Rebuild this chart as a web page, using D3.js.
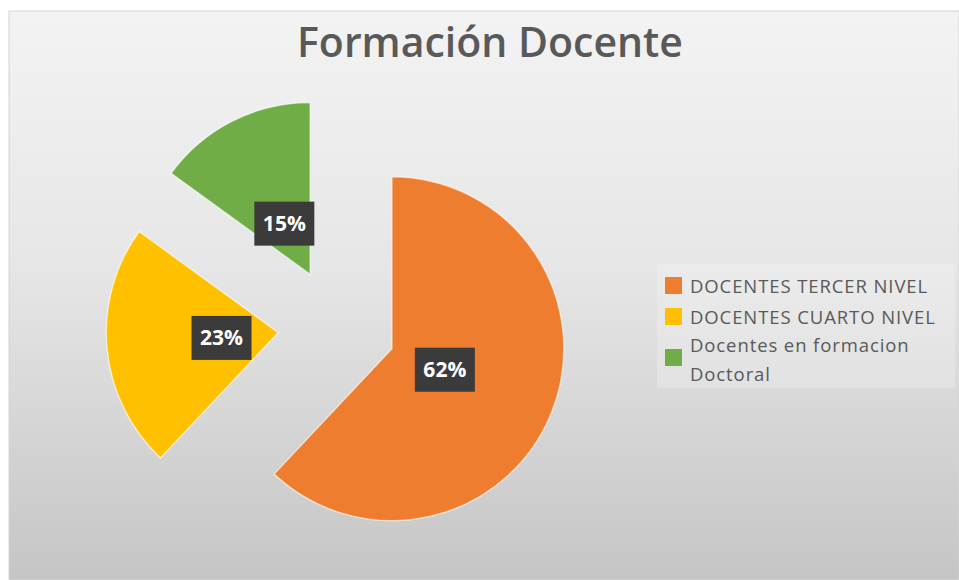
<!DOCTYPE html>
<html>
<head>
<meta charset="utf-8">
<script src="https://cdn.jsdelivr.net/npm/d3@7/dist/d3.min.js"></script>
<style>
  body { margin: 0; background: #ffffff; }
  svg { display: block; }
</style>
</head>
<body>
<svg></svg>
<script>
var svgWidth = 959, svgHeight = 580;

// chart data
var categories = ["DOCENTES TERCER NIVEL", "DOCENTES CUARTO NIVEL", "Docentes en formacion Doctoral"];
var legendLines = [["DOCENTES TERCER NIVEL"], ["DOCENTES CUARTO NIVEL"], ["Docentes en formacion", "Doctoral"]];
var values = [62, 23, 15];
var colors = ["#EE7D2F", "#FFC000", "#70AD47"];

var svg = d3.select("svg")
            .attr("width", svgWidth)
            .attr("height", svgHeight);

// background panel with excel style gradient
var defs = svg.append("defs");
var grad = defs.append("linearGradient")
               .attr("id", "bg")
               .attr("x1", 0).attr("y1", 0)
               .attr("x2", 0).attr("y2", 1);
grad.append("stop").attr("offset", "0%").attr("stop-color", "#f3f3f3");
grad.append("stop").attr("offset", "45%").attr("stop-color", "#e6e6e6");
grad.append("stop").attr("offset", "100%").attr("stop-color", "#c5c5c5");

svg.append("rect")
   .attr("x", 9).attr("y", 11)
   .attr("width", svgWidth - 9).attr("height", svgHeight - 11)
   .attr("fill", "url(#bg)")
   .attr("stroke", "#d4d4d4")
   .attr("stroke-width", 1);

// title
svg.append("text")
   .attr("x", 490)
   .attr("y", 57)
   .attr("text-anchor", "middle")
   .style("font-family", "'Open Sans', sans-serif")
   .style("font-weight", 600)
   .style("font-size", "41px")
   .style("fill", "#595959")
   .text("Formación Docente");

// pie
var cx = 337, cy = 327, radius = 172, explode = 59;

var pie = d3.pie().sort(null).value(function(d) { return d; });
var arcs = pie(values);

var arc = d3.arc().innerRadius(0).outerRadius(radius);
var labelArc = d3.arc().innerRadius(57).outerRadius(57);

function offset(d) {
    var mid = (d.startAngle + d.endAngle) / 2;
    return [cx + explode * Math.sin(mid), cy - explode * Math.cos(mid)];
}

var slices = svg.selectAll(".slice")
                .data(arcs)
                .enter().append("g")
                    .attr("class", "slice")
                    .attr("transform", function(d) {
                        var o = offset(d);
                        return "translate(" + o[0] + "," + o[1] + ")";
                    });

slices.append("path")
      .attr("d", arc)
      .attr("fill", function(d, i) { return colors[i]; })
      .attr("stroke", "rgba(255,255,255,0.6)")
      .attr("stroke-width", 1.5);

// data labels
var boxW = 60, boxH = 44;
slices.each(function(d) {
    var c = labelArc.centroid(d);
    var g = d3.select(this);
    g.append("rect")
     .attr("x", c[0] - boxW / 2)
     .attr("y", c[1] - boxH / 2)
     .attr("width", boxW)
     .attr("height", boxH)
     .attr("fill", "#3b3b3b");
    g.append("text")
     .attr("x", c[0])
     .attr("y", c[1])
     .attr("dy", "0.36em")
     .attr("text-anchor", "middle")
     .style("font-family", "'Open Sans', sans-serif")
     .style("font-weight", 700)
     .style("font-size", "21px")
     .style("fill", "#ffffff")
     .text(d.data + "%");
});

// legend
var legend = svg.append("g").attr("transform", "translate(665, 0)");

legend.append("rect")
      .attr("x", -8).attr("y", 264)
      .attr("width", 298).attr("height", 124)
      .attr("fill", "rgba(255,255,255,0.22)");

var rowY = [287, 318, 346];
var lineGap = 29;
var swatchY = [285, 316, 357];

var items = legend.selectAll(".legend-item")
                  .data(categories)
                  .enter().append("g")
                      .attr("class", "legend-item");

items.append("rect")
     .attr("x", 0)
     .attr("y", function(d, i) { return swatchY[i] - 8; })
     .attr("width", 17)
     .attr("height", 17)
     .attr("fill", function(d, i) { return colors[i]; });

items.append("text")
     .style("font-family", "'Open Sans', sans-serif")
     .style("font-size", "18.5px")
     .style("letter-spacing", "0.9px")
     .style("fill", "#595959")
     .each(function(d, i) {
         var t = d3.select(this);
         legendLines[i].forEach(function(line, j) {
             t.append("tspan")
              .attr("x", 25)
              .attr("y", rowY[i] + j * lineGap)
              .attr("dy", "0.35em")
              .text(line);
         });
     });
</script>
</body>
</html>
